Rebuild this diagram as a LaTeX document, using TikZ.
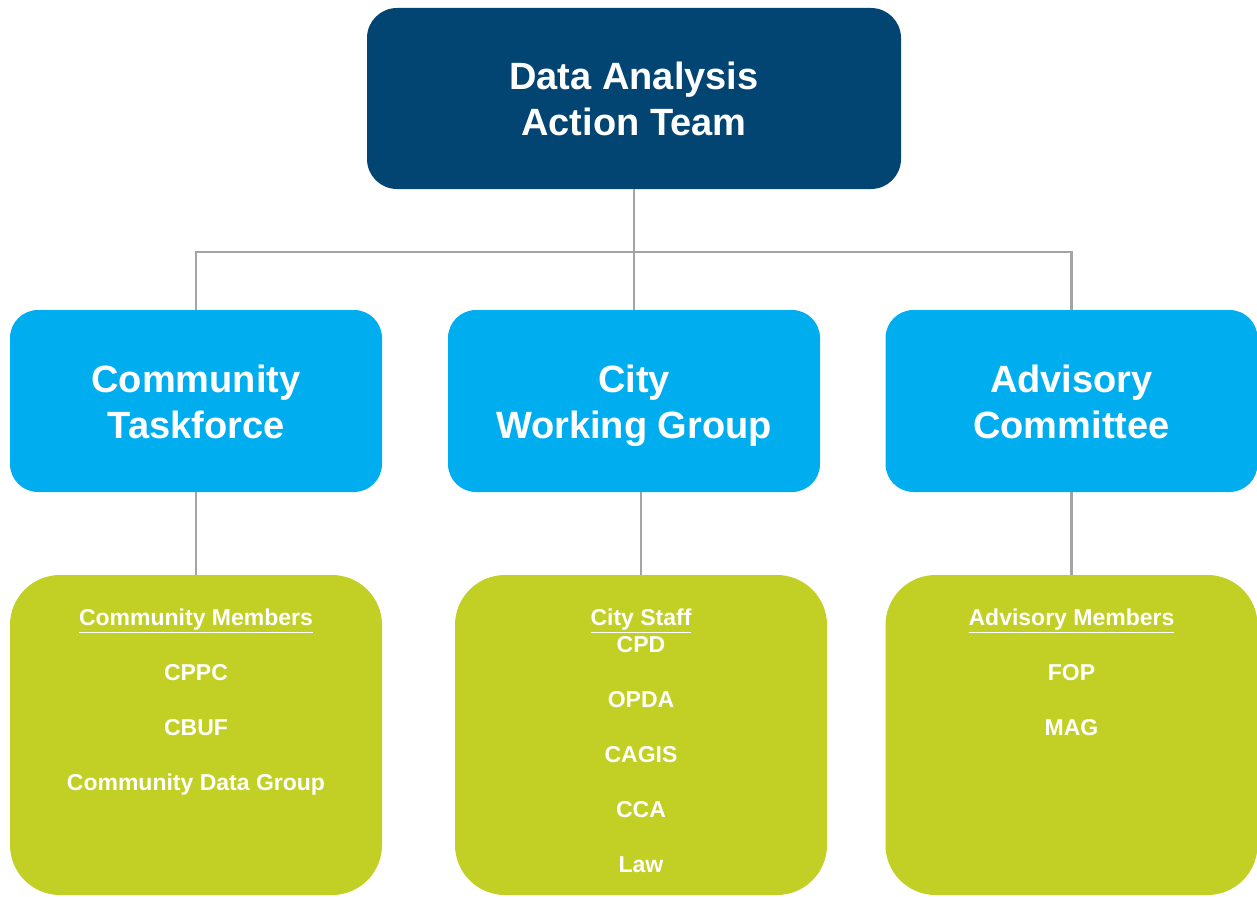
\documentclass[tikz,border=0pt]{standalone}
\usepackage{fontspec}
\setmainfont{Liberation Sans}
\usepackage{xcolor}
\usepackage{tikz}
\usetikzlibrary{positioning}
\definecolor{teamnavy}{HTML}{024472}
\definecolor{groupblue}{HTML}{00AEEF}
\definecolor{membergreen}{HTML}{C2CF24}
\definecolor{linkgray}{HTML}{A4A4A4}
\tikzstyle{org_team} = [rectangle, rounded corners = 30, fill = teamnavy, text = white, align = center, font = \fontsize{38}{46}\selectfont\bfseries, text height = 74, text depth = 0, minimum width = 534, minimum height = 181]
\tikzstyle{org_group} = [rectangle, rounded corners = 28, fill = groupblue, text = white, align = center, font = \fontsize{38}{46}\selectfont\bfseries, text height = 74, text depth = 0, minimum width = 372, minimum height = 182]
\tikzstyle{org_members} = [rectangle, rounded corners = 50, fill = membergreen, minimum width = 372, minimum height = 320]
\tikzstyle{org_members_text} = [text = white, align = center, inner sep = 0, anchor = north, font = \fontsize{23}{55}\selectfont\bfseries]
\tikzstyle{org_link} = [draw = linkgray, line width = 2.6]

\begin{document}
\begin{tikzpicture}[x = 1pt, y = -1pt]
        \useasboundingbox (0, 0) rectangle (1257, 896);
        \node [style = {org_team}] (team) at (634, 98.5) {Data Analysis\\Action Team};
        \node [style = {org_group}] (community) at (196, 401) {Community\\Taskforce};
        \node [style = {org_group}] (city) at (634, 401) {City\\Working Group};
        \node [style = {org_group}] (advisory) at (1071.5, 401) {Advisory\\Committee};
        \node [style = {org_members}] (community_members) at (196, 735) {};
        \node [style = {org_members}] (city_members) at (641, 735) {};
        \node [style = {org_members}] (advisory_members) at (1071.5, 735) {};
        \node [style = {org_members_text}, below = 34pt of community_members.north] (community_list) {\underline{Community Members}\\CPPC\\CBUF\\Community Data Group};
        \node [style = {org_members_text}, below = 34pt of city_members.north] (city_list) {\underline{City Staff}\\[-28pt]CPD\\OPDA\\CAGIS\\CCA\\Law};
        \node [style = {org_members_text}, below = 34pt of advisory_members.north] (advisory_list) {\underline{Advisory Members}\\FOP\\MAG};
        \coordinate (bus) at (634, 252);
        \draw [style = {org_link}] (team.south) -- (city.north);
        \draw [style = {org_link}] (community.north) -- (community.north |- bus) -- (advisory.north |- bus) -- (advisory.north);
        \draw [style = {org_link}] (community.south) -- (community_members.north);
        \draw [style = {org_link}] (city_members.north |- city.south) -- (city_members.north);
        \draw [style = {org_link}] (advisory.south) -- (advisory_members.north);
    \end{tikzpicture}
\end{document}
